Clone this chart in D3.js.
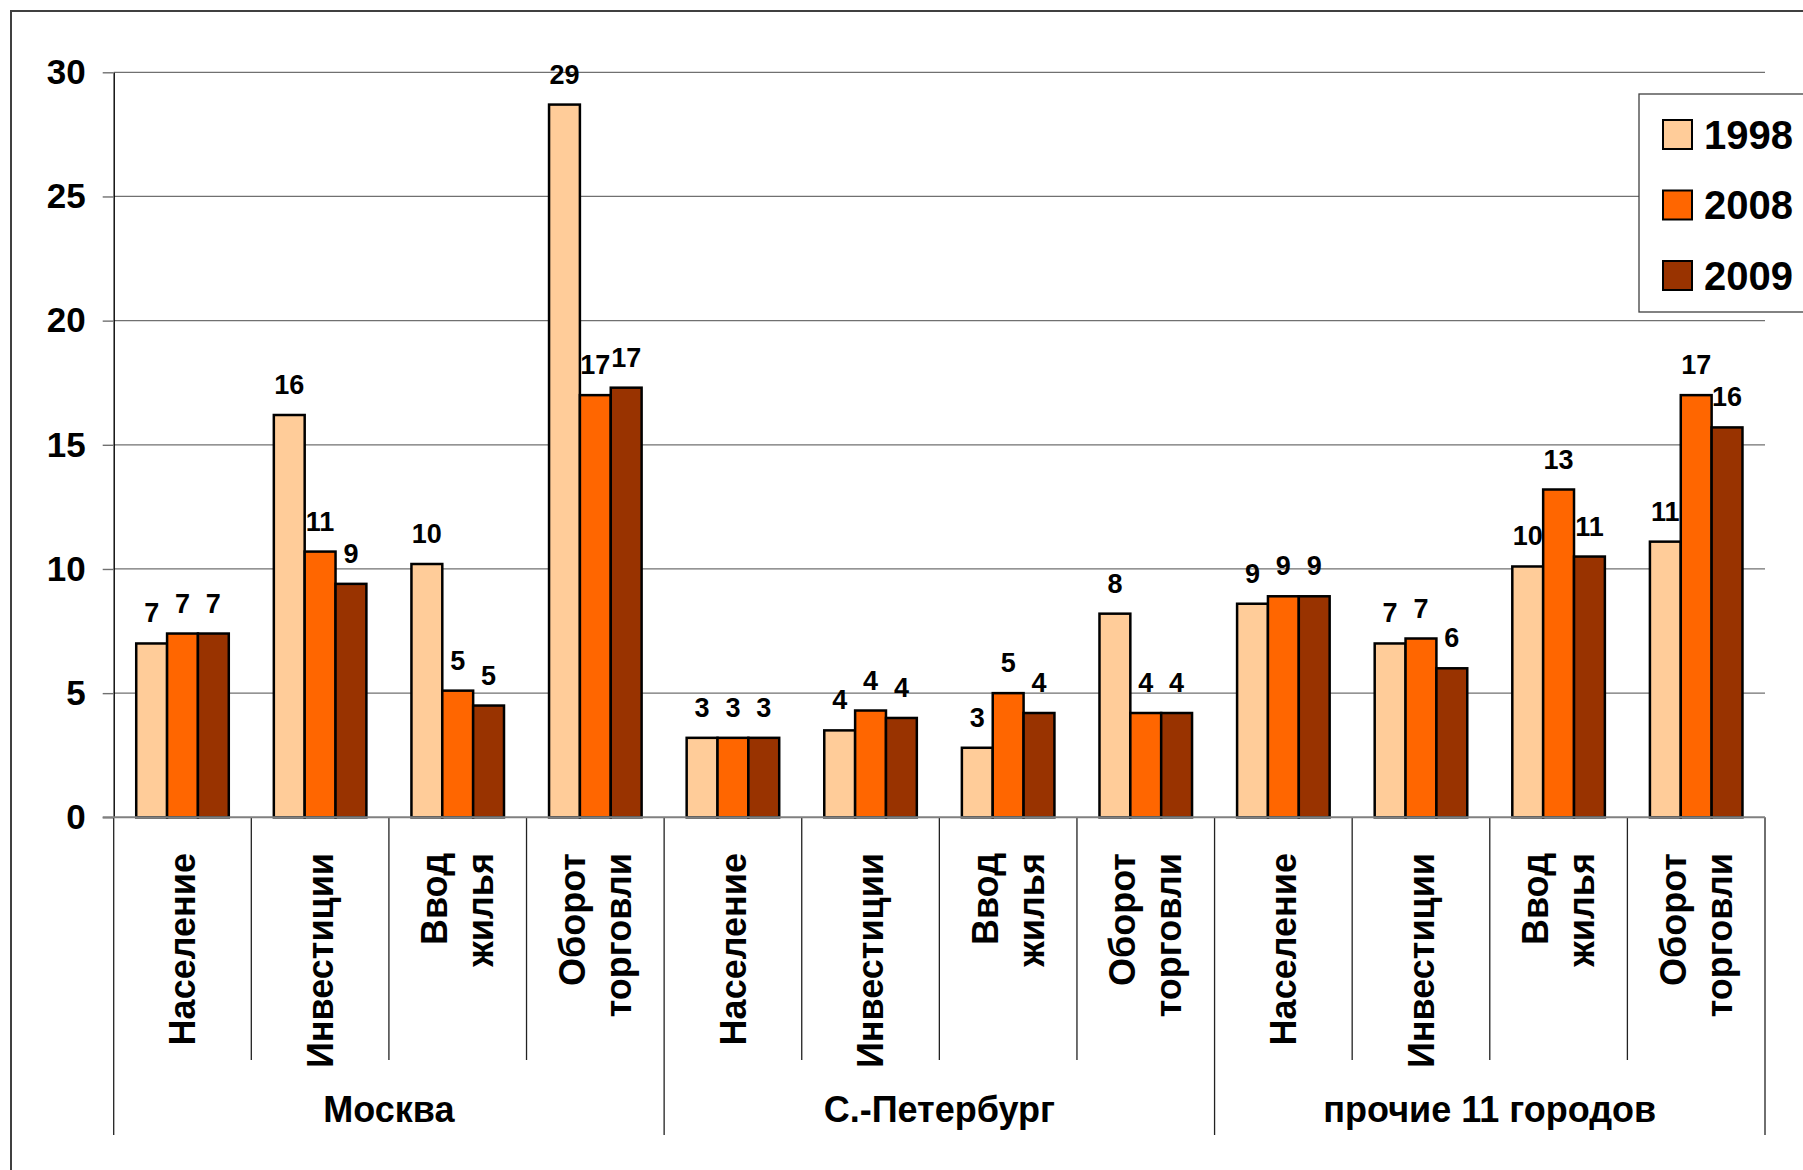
<!DOCTYPE html>
<html><head><meta charset="utf-8">
<script src="https://cdn.jsdelivr.net/npm/d3@7"></script>
<style>
html,body{margin:0;padding:0;background:#fff;overflow:hidden}
text{font-family:"Liberation Sans",Arial,sans-serif;font-weight:bold;fill:#000}
</style>
</head><body>
<svg id="chart" width="1803" height="1170"></svg>
<script>
// ---- data ----
const groups = ["Москва", "С.-Петербург", "прочие 11 городов"];
const indicators = [["Население"], ["Инвестиции"], ["Ввод", "жилья"], ["Оборот", "торговли"]];
const seriesNames = ["1998", "2008", "2009"];
const seriesColors = ["#FFCC99", "#FF6600", "#993300"];
const values1998 = [7.0, 16.2, 10.2, 28.7, 3.2, 3.5, 2.8, 8.2, 8.6, 7.0, 10.1, 11.1];
const values2008 = [7.4, 10.7, 5.1, 17.0, 3.2, 4.3, 5.0, 4.2, 8.9, 7.2, 13.2, 17.0];
const values2009 = [7.4, 9.4, 4.5, 17.3, 3.2, 4.0, 4.2, 4.2, 8.9, 6.0, 10.5, 15.7];
const yTicks = [0, 5, 10, 15, 20, 25, 30];

// ---- build table ----
const seriesValues = [values1998, values2008, values2009];
const categories = [];
groups.forEach((g, gi) => indicators.forEach((lines, ii) => categories.push({
  id: gi * indicators.length + ii, group: g, lines: lines
})));
const bars = [];
categories.forEach(c => seriesNames.forEach((s, si) => bars.push({
  cat: c.id, series: s, color: seriesColors[si], value: seriesValues[si][c.id]
})));

const svg = d3.select("#chart");
const plot = {left: 113.7, right: 1765, top: 72.3, bottom: 817.3};

const x = d3.scaleBand().domain(categories.map(c => c.id)).range([plot.left, plot.right]).padding(0);
const xs = d3.scaleBand().domain(seriesNames).range([0, x.bandwidth()]).paddingInner(0).paddingOuter(0.73);
const y = d3.scaleLinear().domain([0, 30]).range([plot.bottom, plot.top]);
const color = d3.scaleOrdinal().domain(seriesNames).range(seriesColors);

// outer border
svg.append("rect").attr("x", 11).attr("y", 11).attr("width", 1900).attr("height", 1300)
  .attr("fill", "none").attr("stroke", "#404040").attr("stroke-width", 2);

// gridlines
svg.append("g").selectAll("line").data(yTicks.filter(t => t > 0)).join("line")
  .attr("x1", plot.left).attr("x2", plot.right)
  .attr("y1", d => y(d)).attr("y2", d => y(d))
  .attr("stroke", "#707070").attr("stroke-width", 1.3);

// y axis
const yAxis = svg.append("g").attr("transform", `translate(${plot.left},0)`)
  .call(d3.axisLeft(y).tickValues(yTicks).tickSize(11).tickSizeOuter(0).tickPadding(17));
yAxis.select(".domain").attr("stroke", "#000").attr("stroke-width", 1.4);
yAxis.selectAll(".tick line").attr("stroke", "#707070").attr("stroke-width", 1.4);
yAxis.selectAll(".tick text").style("font-size", "35px").attr("font-family", null)
  .style("font-family", '"Liberation Sans",Arial,sans-serif').style("font-weight", "bold").attr("fill", "#000");

// category separators
const bounds = d3.range(categories.length + 1);
svg.append("g").selectAll("line").data(bounds).join("line")
  .attr("x1", i => i < categories.length ? x(i) : x(i - 1) + x.bandwidth())
  .attr("x2", i => i < categories.length ? x(i) : x(i - 1) + x.bandwidth())
  .attr("y1", plot.bottom)
  .attr("y2", i => i % indicators.length === 0 ? 1135 : 1060)
  .attr("stroke", "#222").attr("stroke-width", 1.3);

// bars
svg.append("g").selectAll("rect").data(bars).join("rect")
  .attr("x", d => x(d.cat) + xs(d.series))
  .attr("width", xs.bandwidth())
  .attr("y", d => y(d.value))
  .attr("height", d => y(0) - y(d.value))
  .attr("fill", d => color(d.series))
  .attr("stroke", "#000").attr("stroke-width", 2.5);

// zero line
svg.append("line").attr("x1", plot.left - 11).attr("x2", plot.right)
  .attr("y1", y(0)).attr("y2", y(0)).attr("stroke", "#808080").attr("stroke-width", 2);

// data labels
svg.append("g").selectAll("text").data(bars).join("text")
  .attr("x", d => x(d.cat) + xs(d.series) + xs.bandwidth() / 2)
  .attr("y", d => y(d.value) - 21)
  .attr("text-anchor", "middle").style("font-size", "27px")
  .text(d => Math.round(d.value));

// category labels (rotated)
const catFont = 36, lineH = 46;
const cl = svg.append("g").selectAll("text").data(categories).join("text")
  .attr("transform", d => `translate(${x(d.id) + x.bandwidth() / 2},853) rotate(-90)`)
  .attr("text-anchor", "end").style("font-size", catFont + "px");
cl.selectAll("tspan").data(d => d.lines.map((t, k) => ({t, k, n: d.lines.length}))).join("tspan")
  .attr("x", 0)
  .attr("y", d => 0.35 * catFont + (d.k - (d.n - 1) / 2) * lineH)
  .text(d => d.t);

// group labels
svg.append("g").selectAll("text").data(groups).join("text")
  .attr("x", (g, gi) => {
    const a = x(gi * indicators.length), b = x(gi * indicators.length + indicators.length - 1) + x.bandwidth();
    return (a + b) / 2;
  })
  .attr("y", 1122).attr("text-anchor", "middle").style("font-size", "36px")
  .text(g => g);

// legend
const legendY = d3.scalePoint().domain(seriesNames).range([134.5, 275.5]);
const lg = svg.append("g");
lg.append("rect").attr("x", 1639).attr("y", 94).attr("width", 300).attr("height", 218)
  .attr("fill", "#fff").attr("stroke", "#404040").attr("stroke-width", 1.3);
const li = lg.selectAll("g.item").data(seriesNames).join("g").attr("class", "item");
li.append("rect").attr("x", 1663).attr("y", d => legendY(d) - 14.5).attr("width", 29).attr("height", 29)
  .attr("fill", d => color(d)).attr("stroke", "#000").attr("stroke-width", 2);
li.append("text").attr("x", 1704).attr("y", d => legendY(d) + 14).style("font-size", "40px").text(d => d);
</script>
</body></html>
